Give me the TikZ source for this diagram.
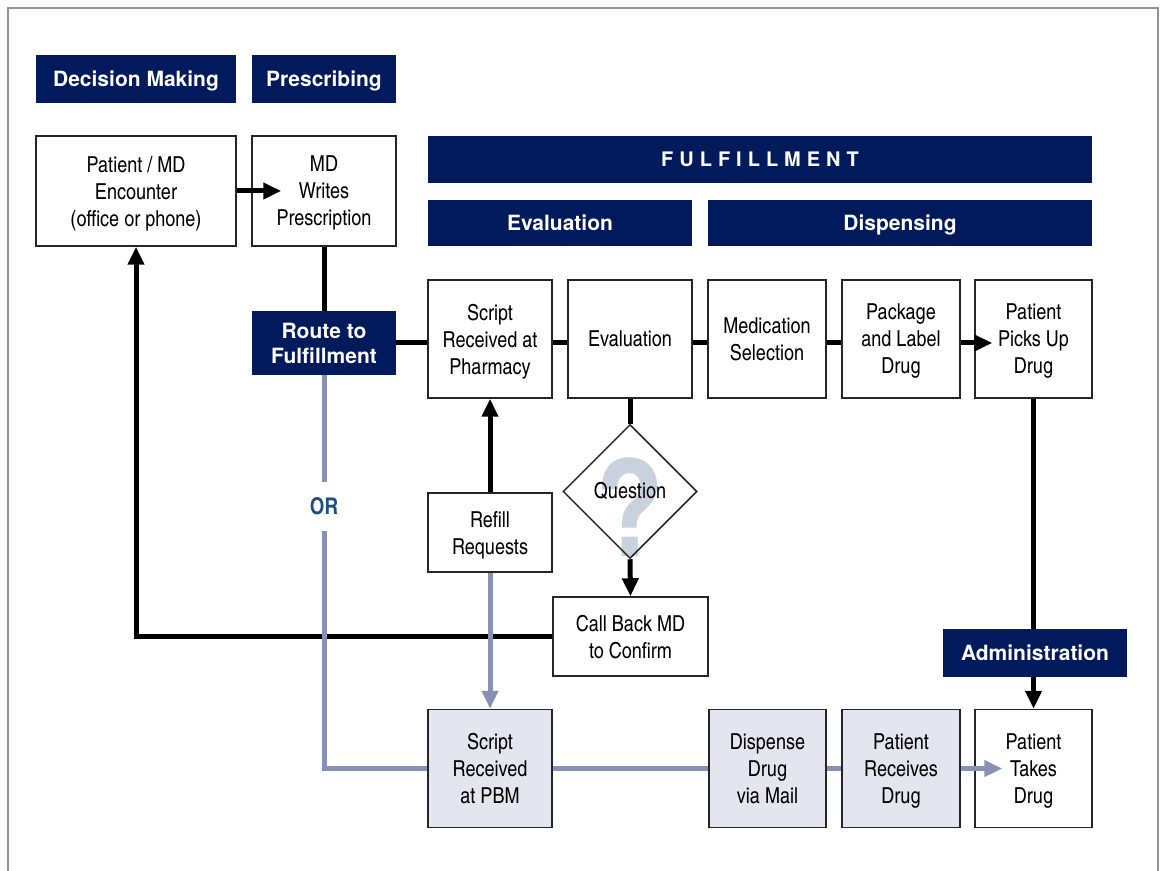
\documentclass[tikz,border=0pt]{standalone}
\usepackage{fontspec}
\usepackage{tikz}
\usetikzlibrary{arrows.meta,shapes.geometric}
\setmainfont{texgyreheroscn}[Extension=.otf,UprightFont=*-regular,BoldFont=*-bold]
\newfontfamily\heros{TeX Gyre Heros}
\newfontfamily\herossp{TeX Gyre Heros}[LetterSpace=30]
\definecolor{navy}{HTML}{001A5C}
\definecolor{lightline}{HTML}{8791B5}
\definecolor{grayfill}{HTML}{E3E6EE}
\definecolor{qmark}{HTML}{C8D2DE}
\definecolor{orcol}{HTML}{1E4F7E}
\tikzset{
  navbox/.style={fill=navy,text=white,inner sep=0pt,minimum height=24pt,align=center,text depth=0pt,
    font=\heros\bfseries\fontsize{10.5}{12.5}\selectfont},
  wbox/.style={draw=black!85,line width=0.75pt,inner sep=0pt,minimum height=59pt,align=center,text depth=0pt,
    font=\fontsize{11}{13.5}\selectfont},
  gbox/.style={wbox,fill=grayfill},
  blk/.style={line width=2.5pt,black},
  lgt/.style={line width=2.5pt,lightline},
  arr/.style={-{Triangle[length=9pt,width=8pt]}}
}
\begin{document}
\begin{tikzpicture}[x=0.5pt,y=-0.5pt]
\useasboundingbox (0,0) rectangle (1162,871);
\draw[gray!85,line width=1pt] (8,871) -- (8,8) -- (1158,8) -- (1158,871);

\node[navbox,minimum width=100pt] (dm) at (136,79) {Decision Making};
\node[navbox,minimum width=72pt] (pres) at (324,79) {Prescribing};
\node[navbox,minimum width=332pt,minimum height=23.5pt,font=\herossp\bfseries\fontsize{10}{12}\selectfont] (ful) at (760,159.5) {FULFILLMENT};
\node[navbox,minimum width=132pt,minimum height=23pt] (evh) at (560,223) {Evaluation};
\node[navbox,minimum width=192pt,minimum height=23pt] (disp) at (900,223) {Dispensing};
\node[navbox,minimum width=72pt,minimum height=32pt] (route) at (324,343) {Route to\\Fulfillment};
\node[navbox,minimum width=92pt] (admin) at (1035,653) {Administration};

\node[wbox,minimum width=100pt,minimum height=55pt] (encounter) at (136,191) {Patient / MD\\Encounter\\(office or phone)};
\node[wbox,minimum width=72pt,minimum height=55pt] (writes) at (324,191) {MD\\Writes\\Prescription};
\node[wbox,minimum width=62pt] (script) at (490,339) {Script\\Received at\\Pharmacy};
\node[wbox,minimum width=62pt] (evalb) at (630,339) {Evaluation};
\node[wbox,minimum width=59pt] (medsel) at (767,339) {Medication\\Selection};
\node[wbox,minimum width=59pt] (pack) at (901,339) {Package\\and Label\\Drug};
\node[wbox,minimum width=58.5pt] (pickup) at (1033.5,339) {Patient\\Picks Up\\Drug};
\node[wbox,minimum width=62pt,minimum height=39.5pt] (refill) at (490,532.5) {Refill\\Requests};
\node[wbox,minimum width=77.5pt,minimum height=39.5pt] (callback) at (630.5,636.5) {Call Back MD\\to Confirm};
\node[anchor=base,text=qmark,font=\bfseries\fontsize{68}{68}\selectfont] (qm) at (630,556) {?};
\node[diamond,draw=black!85,line width=0.75pt,inner sep=0pt,minimum width=67pt,minimum height=67pt,
  font=\fontsize{11}{13.5}\selectfont] (question) at (630,491.5) {Question};
\node[gbox,minimum width=62pt] (pbm) at (490,768.5) {Script\\Received\\at PBM};
\node[gbox,minimum width=58.5pt] (dmail) at (767.5,768.5) {Dispense\\Drug\\via Mail};
\node[gbox,minimum width=59pt] (recv) at (901,768.5) {Patient\\Receives\\Drug};
\node[wbox,minimum width=58.5pt] (takes) at (1033.5,768.5) {Patient\\Takes\\Drug};
\node[text=orcol,inner sep=0pt,minimum height=24.5pt,font=\bfseries\fontsize{11.5}{12}\selectfont] (orl) at (324,506.5) {OR};

\draw[blk,arr,shorten >=-15pt] (encounter) -- (writes);
\draw[blk] (writes.south) -- (route.north);
\draw[blk] (route.east) -- (route.east -| script.west);
\draw[blk] (script.east |- route.east) -- (evalb.west |- route.east);
\draw[blk] (evalb.east |- route.east) -- (medsel.west |- route.east);
\draw[blk] (medsel.east |- route.east) -- (pack.west |- route.east);
\draw[blk,arr,shorten >=-9pt] (pack.east |- route.east) -- (pickup.west |- route.east);
\draw[blk] (evalb.south) -- (question.north);
\draw[blk,arr] (question.south) -- (callback.north);
\draw[blk,arr] (refill.north) -- (script.south);
\draw[blk,arr] (callback.west) -| (encounter.south);
\draw[blk] (pickup.south) -- (pickup.south |- admin.north);
\draw[blk,arr] (pickup.south |- admin.south) -- (takes.north);

\draw[lgt] (route.south) -- (orl.north);
\draw[lgt] (orl.south) |- (pbm.west);
\draw[lgt,arr] (refill.south) -- (pbm.north);
\draw[lgt] (pbm) -- (dmail);
\draw[lgt] (dmail) -- (recv);
\draw[lgt,arr,shorten >=-14pt] (recv) -- (takes);
\end{tikzpicture}
\end{document}
